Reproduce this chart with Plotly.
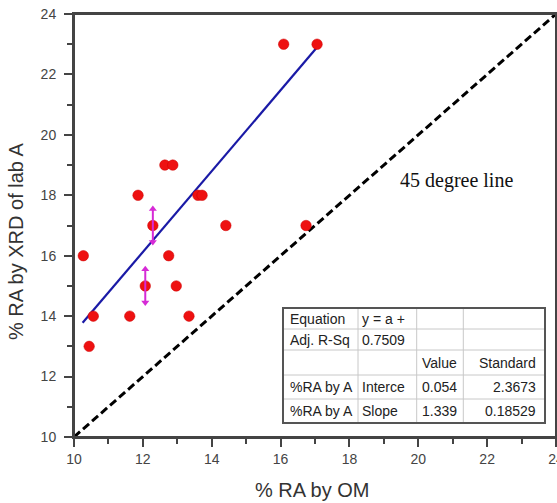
import plotly.graph_objects as go

# ---- data ----
om_x = [10.27, 10.44, 10.56, 11.62, 11.86, 12.07, 12.29, 12.64, 12.75, 12.87,
        12.97, 13.34, 13.60, 13.72, 14.41, 16.74, 16.09, 17.06]
xrd_y = [16, 13, 14, 14, 18, 15, 17, 19, 16, 19,
         15, 14, 18, 18, 17, 17, 23, 23]

err_x = [12.29, 12.07]
err_y = [17, 15]
err_half = [0.55, 0.55]

fit_intercept = 0.054
fit_slope = 1.339
fit_x_range = [10.25, 17.06]

diag_range = [10, 24]

x_ticks = [10, 12, 14, 16, 18, 20, 22, 24]
y_ticks = [10, 12, 14, 16, 18, 20, 22, 24]

table_rows = [
    ["Equation", "y = a +", "", ""],
    ["Adj. R-Sq", "0.7509", "", ""],
    ["", "", "Value", "Standard"],
    ["%RA by A", "Interce", "0.054", "2.3673"],
    ["%RA by A", "Slope", "1.339", "0.18529"],
]

# ---- layout geometry (pixels) ----
W, H = 557, 503
L, R, T, B = 74, 556, 14, 437


def px(xp):
    return (xp - L) / (R - L)


def py(yp):
    return (B - yp) / (B - T)


fig = go.Figure()

# 45 degree line
fig.add_trace(go.Scatter(
    x=diag_range, y=diag_range, mode="lines",
    line=dict(color="black", width=3, dash="8px,4px"),
    hoverinfo="skip", showlegend=False))

# fit line
fit_y = [fit_intercept + fit_slope * v for v in fit_x_range]
fig.add_trace(go.Scatter(
    x=fit_x_range, y=fit_y, mode="lines",
    line=dict(color="#1a1aa6", width=2.2),
    showlegend=False))

# points
fig.add_trace(go.Scatter(
    x=om_x, y=xrd_y, mode="markers",
    marker=dict(color="#ee1111", size=10.5, line=dict(color="#cc0000", width=0.5)),
    showlegend=False))

# magenta double arrows
ex, ey, sym = [], [], []
for xv, yv, e in zip(err_x, err_y, err_half):
    ex += [xv, xv, None]
    ey += [yv - e, yv + e, None]
    sym += ["triangle-down", "triangle-up", "circle"]
fig.add_trace(go.Scatter(
    x=ex, y=ey, mode="lines+markers",
    line=dict(color="#d62ad6", width=2),
    marker=dict(symbol=sym, size=7, color="#d62ad6"),
    showlegend=False, connectgaps=False))

axis_common = dict(
    showgrid=False, zeroline=False, showline=True, linecolor="#444", linewidth=2,
    mirror=True, ticks="outside", ticklen=8, tickwidth=1.5, tickcolor="#444",
    automargin=False,
    tickfont=dict(family="Arial, Liberation Sans", size=14, color="#444"),
    minor=dict(ticks="outside", ticklen=5, tickwidth=1.5, tickcolor="#444", dtick=1),
)

fig.update_xaxes(range=[10, 24], tickvals=x_ticks, ticklabeloverflow="allow", **axis_common)
fig.update_yaxes(range=[10, 24], tickvals=y_ticks, ticklabelstandoff=5, **axis_common)

annotations = [
    dict(text="45 degree line", x=21.12, y=18.5, xref="x", yref="y", showarrow=False,
         font=dict(family="Liberation Serif, Times New Roman", size=20, color="#111")),
    dict(text="% RA by OM", x=px(312), y=py(490), xref="paper", yref="paper",
         xanchor="center", yanchor="middle",
         showarrow=False, font=dict(family="Arial, Liberation Sans", size=20, color="#333")),
    dict(text="% RA by XRD of lab A", x=px(16), y=py(242), xref="paper", yref="paper",
         xanchor="center", yanchor="middle",
         showarrow=False, textangle=-90,
         font=dict(family="Arial, Liberation Sans", size=20, color="#333")),
]

# plot frame (top and right borders)
shapes = [dict(type="rect", xref="paper", yref="paper", x0=0, x1=1, y0=0, y1=1,
               line=dict(color="#444", width=2), layer="above")]

# table geometry
tx0, tx1 = 283, 545
ty0, ty1 = 308, 423
col_lines = [358, 416.7, 463.3]
row_lines = [329, 350, 375, 399]
row_centers = [318.5, 339.5, 363, 387, 411]
col_text = [(288, "left"), (360, "left"), (420, "left"), (538, "right")]

shapes.append(dict(type="rect", xref="paper", yref="paper",
                   x0=px(tx0), x1=px(tx1), y0=py(ty1), y1=py(ty0),
                   line=dict(color="#555", width=2), fillcolor="white", layer="above"))
for cx in col_lines:
    shapes.append(dict(type="line", xref="paper", yref="paper",
                       x0=px(cx), x1=px(cx), y0=py(ty1), y1=py(ty0),
                       line=dict(color="#c8c8c8", width=1), layer="above"))
for ry in row_lines:
    shapes.append(dict(type="line", xref="paper", yref="paper",
                       x0=px(tx0), x1=px(tx1), y0=py(ry), y1=py(ry),
                       line=dict(color="#c8c8c8", width=1), layer="above"))
shapes.append(dict(type="rect", xref="paper", yref="paper",
                   x0=px(tx0), x1=px(tx1), y0=py(ty1), y1=py(ty0),
                   line=dict(color="#555", width=2), layer="above"))

for r, row in enumerate(table_rows):
    for c, txt in enumerate(row):
        if not txt:
            continue
        xp, anc = col_text[c]
        annotations.append(dict(
            text=txt, x=px(xp), y=py(row_centers[r]), xref="paper", yref="paper",
            xanchor=anc, yanchor="middle", showarrow=False,
            font=dict(family="Arial, Liberation Sans", size=14, color="#222")))

fig.update_layout(
    width=W, height=H,
    margin=dict(l=L, r=W - R, t=T, b=H - B, autoexpand=False),
    plot_bgcolor="white", paper_bgcolor="white",
    shapes=shapes, annotations=annotations,
)

fig.write_html(
    "out.html",
    config={"displayModeBar": False},
    post_script="document.body.style.margin='0';document.body.style.overflow='hidden';",
)
